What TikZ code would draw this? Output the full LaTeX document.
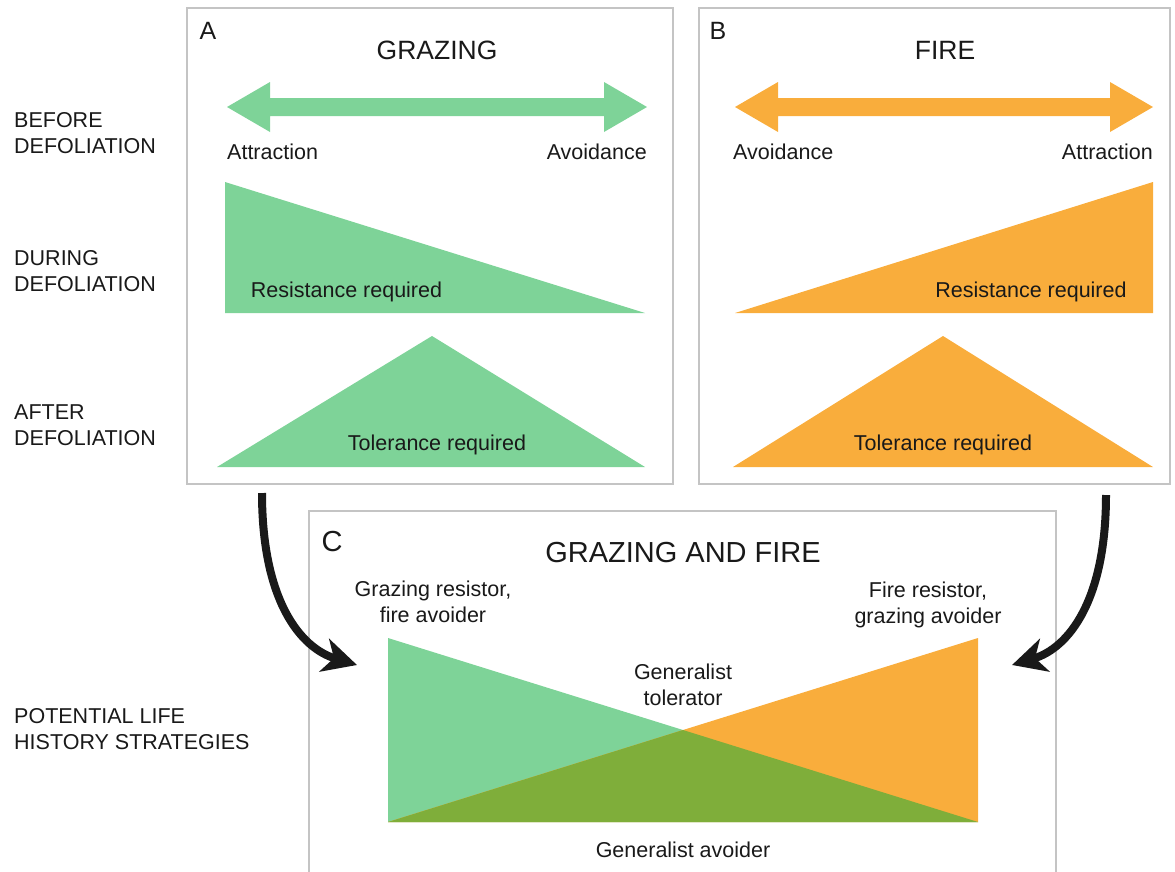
\documentclass[tikz,border=0pt]{standalone}
\usepackage{fontspec}
\setmainfont{Liberation Sans}
\usetikzlibrary{arrows.meta}
\definecolor{grn}{RGB}{126,211,152}
\definecolor{org}{RGB}{249,173,60}
\definecolor{dgr}{RGB}{127,174,58}
\definecolor{bordergray}{RGB}{196,196,196}
\definecolor{ink}{RGB}{25,25,25}
\begin{document}
\begin{tikzpicture}[x=1pt,y=-1pt,
  panel/.style={draw=bordergray, line width=1.2pt},
  lab/.style={font=\fontsize{21.5}{26}\selectfont, inner sep=0pt, text=ink},
  side/.style={lab, align=left, anchor=base west},
  multi/.style={lab, align=center, anchor=base},
  letter/.style={font=\fontsize{25}{30}\selectfont, inner sep=0pt, anchor=base, text=ink},
  title/.style={font=\fontsize{26.5}{30}\selectfont, inner sep=0pt, anchor=base, text=ink},
  letterC/.style={font=\fontsize{29}{34}\selectfont, inner sep=0pt, anchor=base, text=ink},
  titleC/.style={font=\fontsize{29}{34}\selectfont, inner sep=0pt, anchor=base, text=ink},
  flow/.style={line width=8pt, draw=ink, -{Stealth[length=34pt,width=34pt,inset=10pt]}}]
\useasboundingbox (0,0) rectangle (1175,871);
\clip (0,0) rectangle (1175,871);

% panels
\draw[panel] (187,8) rectangle (673,484);
\draw[panel] (699,8) rectangle (1170,484);
\draw[panel] (309,511) rectangle (1056,900);

% side labels (anchor = baseline of the last line)
\node[side] (before) at (14,153) {BEFORE\\DEFOLIATION};
\node[side] (during) at (14,291) {DURING\\DEFOLIATION};
\node[side] (after) at (14,445) {AFTER\\DEFOLIATION};
\node[side] (potential) at (14,749) {POTENTIAL LIFE\\HISTORY STRATEGIES};

% panel A
\node[letter] (la) at (208,39) {A};
\node[title] (ta) at (437,59) {GRAZING};
\fill[grn] (227,107) -- (270,82) -- (270,98) -- (604,98) -- (604,82) -- (647,107)
  -- (604,132) -- (604,116) -- (270,116) -- (270,132) -- cycle;
\node[lab, anchor=base west] (attrA) at (227,159) {Attraction};
\node[lab, anchor=base east] (avoidA) at (647,159) {Avoidance};
\fill[grn] (225,182) -- (225,313) -- (645,313) -- cycle;
\node[lab, anchor=base] (resA) at (346.5,297) {Resistance required};
\fill[grn] (217,467) -- (432,336) -- (645,467) -- cycle;
\node[lab, anchor=base] (tolA) at (437,450) {Tolerance required};

% panel B
\node[letter] (lb) at (718,39) {B};
\node[title] (tb) at (945,59) {FIRE};
\fill[org] (735,107) -- (778,82) -- (778,98) -- (1110,98) -- (1110,82) -- (1153,107)
  -- (1110,132) -- (1110,116) -- (778,116) -- (778,132) -- cycle;
\node[lab, anchor=base west] (avoidB) at (733,159) {Avoidance};
\node[lab, anchor=base east] (attrB) at (1153,159) {Attraction};
\fill[org] (735,313) -- (1153,182) -- (1153,313) -- cycle;
\node[lab, anchor=base] (resB) at (1031,297) {Resistance required};
\fill[org] (733,467) -- (943,336) -- (1153,467) -- cycle;
\node[lab, anchor=base] (tolB) at (943,450) {Tolerance required};

% panel C
\node[letterC] (lc) at (332,551) {C};
\node[titleC] (tc) at (683,562) {GRAZING AND FIRE};
\node[multi] (grs) at (433,622) {Grazing resistor,\\fire avoider};
\node[multi] (frs) at (928,623) {Fire resistor,\\grazing avoider};
\fill[grn] (388,638) -- (388,822) -- (978,822) -- cycle;
\fill[org] (978,638) -- (978,822) -- (388,822) -- cycle;
\fill[dgr] (388,822) -- (683,730) -- (978,822) -- cycle;
\node[multi] (gtol) at (683,705) {Generalist\\tolerator};
\node[lab, anchor=base] (gav) at (683,857) {Generalist avoider};

% flow arrows
\coordinate (startA) at (262,493);
\coordinate (endA) at (357,665);
\coordinate (startB) at (1106,495);
\coordinate (endB) at (1012,665);
\draw[flow] (startA) .. controls (262,600) and (300,648) .. (endA);
\draw[flow] (startB) .. controls (1106,600) and (1069,648) .. (endB);
\end{tikzpicture}
\end{document}
